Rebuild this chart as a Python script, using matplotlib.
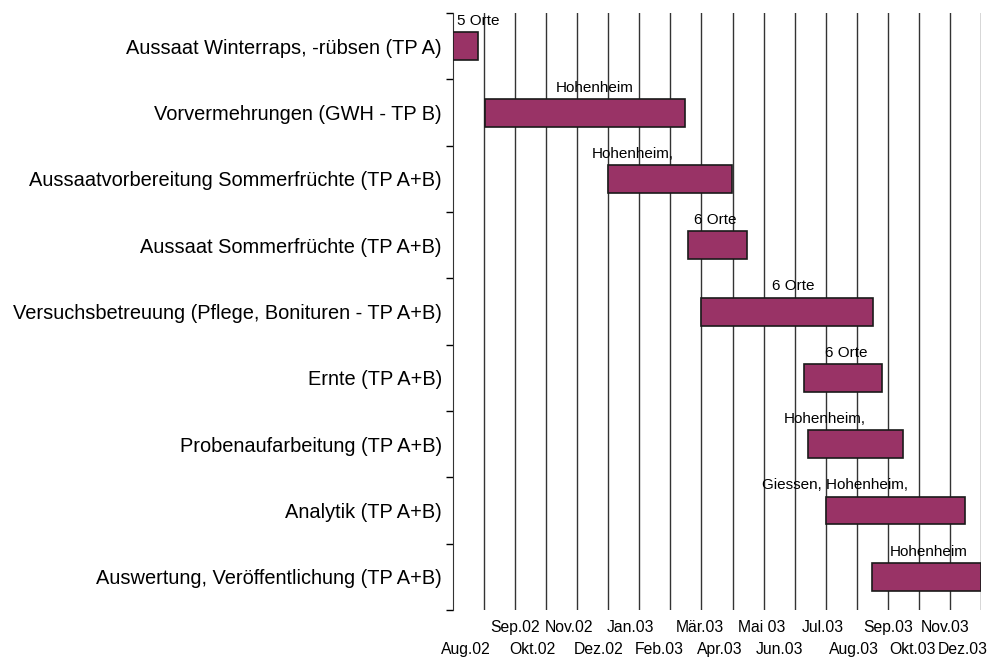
import matplotlib.pyplot as plt
import matplotlib.transforms as mtransforms

plt.rcParams['font.family'] = ['Liberation Sans', 'DejaVu Sans']

# tasks, top to bottom
tasks = ['Aussaat Winterraps, -rübsen (TP A)',
         'Vorvermehrungen (GWH - TP B)',
         'Aussaatvorbereitung Sommerfrüchte (TP A+B)',
         'Aussaat Sommerfrüchte (TP A+B)',
         'Versuchsbetreuung (Pflege, Bonituren - TP A+B)',
         'Ernte (TP A+B)',
         'Probenaufarbeitung (TP A+B)',
         'Analytik (TP A+B)',
         'Auswertung, Veröffentlichung (TP A+B)']

# start / end in months counted from 1 Aug 2002
start = [0.0, 1.03, 5.0, 7.56, 7.98, 11.29, 11.42, 12.02, 13.48]
end = [0.8, 7.48, 8.97, 9.46, 13.52, 13.8, 14.48, 16.48, 17.0]

places = ['5 Orte', 'Hohenheim', 'Hohenheim,', '6 Orte', '6 Orte',
          '6 Orte', 'Hohenheim,', 'Giessen, Hohenheim,', 'Hohenheim']

months = ['Aug.02', 'Sep.02', 'Okt.02', 'Nov.02', 'Dez.02', 'Jan.03',
          'Feb.03', 'Mär.03', 'Apr.03', 'Mai 03', 'Jun.03', 'Jul.03',
          'Aug.03', 'Sep.03', 'Okt.03', 'Nov.03', 'Dez.03']

# where the text sits (layout only)
place_x = [0.82, 4.57, 5.8, 8.43, 10.94, 12.65, 11.97, 12.29, 15.32]
month_off = [0.42, 1.0, 0.55, 0.74, 0.68, 0.71, 0.65, 0.94, 0.58, 0.94,
             0.52, 0.9, 0.9, 1.0, 0.8, 0.84, 0.42]

fig = plt.figure(figsize=(9.9, 6.57), dpi=100)
ax = fig.add_axes([0.4576, 0.0715, 0.5333, 0.9085])

n = len(tasks)
ypos = list(range(n))
ax.barh(ypos, [e - s for s, e in zip(start, end)], left=start, height=0.42,
        color='#993366', edgecolor='#1a1a1a', linewidth=1.2, zorder=3)

for i in range(n):
    ax.annotate(places[i], (place_x[i], ypos[i] - 0.21), xytext=(0, 3),
                textcoords='offset points', ha='center', va='bottom',
                fontsize=11, zorder=4)

ax.set_ylim(n - 0.5, -0.5)
ax.set_xlim(0, 17)

ax.set_yticks([y - 0.5 for y in range(n + 1)])
ax.set_yticklabels([])
ax.set_yticks(ypos, minor=True)
ax.set_yticklabels(tasks, minor=True, fontsize=14.4)
ax.tick_params(axis='y', which='major', length=5, width=1, direction='out')
ax.tick_params(axis='y', which='minor', length=0, pad=8)

ax.set_xticks(range(1, 18))
ax.set_xticklabels([])
ax.tick_params(axis='x', length=0)
ax.grid(axis='x', color='#333333', linewidth=1, zorder=0)

for side in ['top', 'right', 'bottom']:
    ax.spines[side].set_visible(False)
ax.spines['left'].set_color('#333333')

trans = mtransforms.blended_transform_factory(ax.transData, ax.transAxes)
for i, lab in enumerate(months):
    yy = -0.03 if i % 2 == 1 else -0.066
    ax.text(i + month_off[i], yy, lab, transform=trans, ha='center',
            va='center', fontsize=11.3, clip_on=False)

fig.savefig('out.png', dpi=100)
